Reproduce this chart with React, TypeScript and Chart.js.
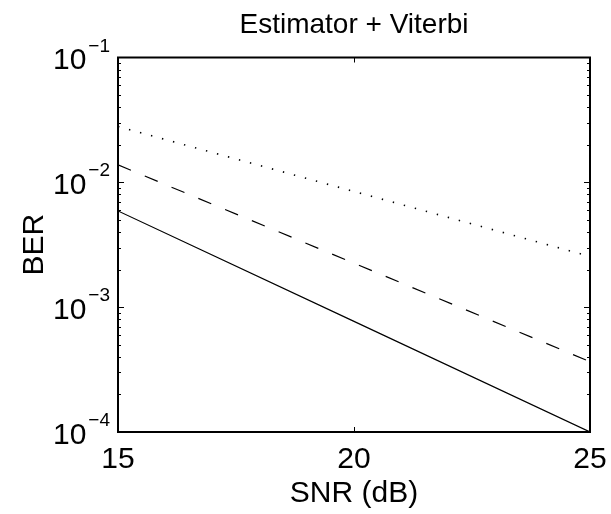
import React, { useEffect, useRef } from "react";
import { Chart, registerables } from "chart.js";

Chart.register(...registerables);

const snrDb = [15, 20, 25];
const berSolid = [5.9e-3, 7.7e-4, 1.0e-4];
const berDashed = [1.38e-2, 2.25e-3, 3.66e-4];
const berDotted = [2.8e-2, 8.45e-3, 2.55e-3];

const xTickValues = [15, 20, 25];
const xTickLabels = ["15", "20", "25"];
const yTickExponents = [-4, -3, -2, -1];
const yTickExponentLabels = ["\u22124", "\u22123", "\u22122", "\u22121"];

const titleText = "Estimator + Viterbi";
const xTitle = "SNR (dB)";
const yTitle = "BER";

const FONT = "'Liberation Sans', Arial, Helvetica, sans-serif";

const decorPlugin = {
  id: "matlabDecor",
  afterDraw(chart: any) {
    const ctx = chart.ctx as CanvasRenderingContext2D;
    const area = chart.chartArea;
    const xs = chart.scales.x;
    const ys = chart.scales.y;
    ctx.save();
    ctx.fillStyle = "#000";
    ctx.strokeStyle = "#000";

    // ticks (inside)
    ctx.lineWidth = 1;
    ctx.beginPath();
    for (let e = -4; e < -1; e++) {
      for (let k = 1; k <= 9; k++) {
        const v = k * Math.pow(10, e);
        const y = Math.round(ys.getPixelForValue(v)) + 0.5;
        const len = k === 1 ? 6 : 3;
        ctx.moveTo(area.left, y);
        ctx.lineTo(area.left + len, y);
        ctx.moveTo(area.right, y);
        ctx.lineTo(area.right - len, y);
      }
    }
    for (const v of xTickValues) {
      const x = Math.round(xs.getPixelForValue(v)) + 0.5;
      ctx.moveTo(x, area.bottom);
      ctx.lineTo(x, area.bottom - 5);
      ctx.moveTo(x, area.top);
      ctx.lineTo(x, area.top + 5);
    }
    ctx.stroke();

    // frame
    ctx.lineWidth = 2;
    ctx.strokeRect(area.left, area.top, area.right - area.left, area.bottom - area.top);

    const cx = (area.left + area.right) / 2;
    const cy = (area.top + area.bottom) / 2;

    // title
    ctx.font = `28px ${FONT}`;
    ctx.textAlign = "center";
    ctx.textBaseline = "alphabetic";
    ctx.fillText(titleText, cx, 33);

    // x tick labels
    ctx.font = `30px ${FONT}`;
    xTickValues.forEach((v, i) => {
      ctx.fillText(xTickLabels[i], xs.getPixelForValue(v), 468);
    });

    // x title
    ctx.fillText(xTitle, cx, 502);

    // y tick labels 10^e
    yTickExponents.forEach((e, i) => {
      const y = ys.getPixelForValue(Math.pow(10, e));
      const right = area.left - 8;
      ctx.font = `19px ${FONT}`;
      ctx.textAlign = "right";
      const expLabel = yTickExponentLabels[i];
      const w = ctx.measureText(expLabel).width;
      ctx.fillText(expLabel, right, y - 6);
      ctx.font = `30px ${FONT}`;
      ctx.fillText("10", right - w - 2, y + 11.5);
    });

    // y title
    ctx.save();
    ctx.translate(43, cy);
    ctx.rotate(-Math.PI / 2);
    ctx.textAlign = "center";
    ctx.font = `30px ${FONT}`;
    ctx.fillText(yTitle, 0, 0);
    ctx.restore();

    ctx.restore();
  },
};

export default function App() {
  const ref = useRef<HTMLCanvasElement | null>(null);
  useEffect(() => {
    if (!ref.current) return;
    const chart = new Chart(ref.current, {
      type: "line",
      data: {
        datasets: [
          {
            label: "solid",
            data: snrDb.map((x, i) => ({ x, y: berSolid[i] })),
            borderColor: "#000",
            borderWidth: 1.2,
            pointRadius: 0,
            fill: false,
          },
          {
            label: "dashed",
            data: snrDb.map((x, i) => ({ x, y: berDashed[i] })),
            borderColor: "#000",
            borderWidth: 1.2,
            borderDash: [14, 15],
            pointRadius: 0,
            fill: false,
          },
          {
            label: "dotted",
            data: snrDb.map((x, i) => ({ x, y: berDotted[i] })),
            borderColor: "#000",
            borderWidth: 1.6,
            borderDash: [1.4, 10],
            pointRadius: 0,
            fill: false,
          },
        ],
      },
      options: {
        responsive: false,
        animation: false,
        layout: { padding: { left: 118, right: 21, top: 57.5, bottom: 82 } },
        plugins: {
          legend: { display: false },
          tooltip: { enabled: false },
          title: { display: false },
        },
        scales: {
          x: { type: "linear", min: 15, max: 25, display: false },
          y: { type: "logarithmic", min: 1e-4, max: 1e-1, display: false },
        },
      },
      plugins: [decorPlugin],
    });
    return () => chart.destroy();
  }, []);
  return (
    <div style={{ position: "fixed", left: 0, top: 0, width: 611, height: 514, background: "#fff" }}>
      <canvas ref={ref} width={611} height={514} />
    </div>
  );
}
